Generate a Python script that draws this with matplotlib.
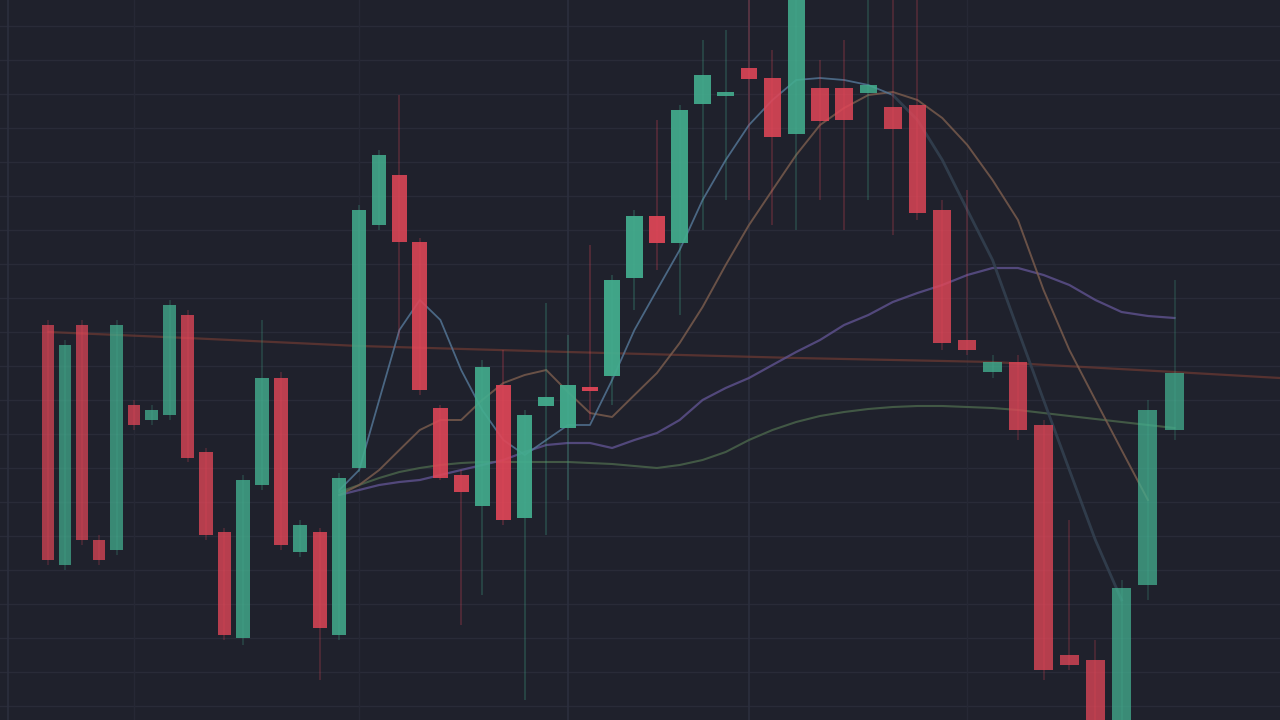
import numpy as np
import matplotlib
matplotlib.use("Agg")
import matplotlib.pyplot as plt

# ---- data (price values) ----
opens  = [395, 155, 395, 180, 170, 315, 300, 305, 405, 268, 188, 82, 235, 342, 168, 188, 85, 252, 495, 545,
          478, 312, 245, 214, 335, 202, 314, 292, 332, 344, 442, 504, 477, 616, 624, 652, 642, 586, 632, 632,
          627, 613, 615, 510, 380, 348, 358, 295, 65, 60, -40, 135, 290]
closes = [160, 375, 180, 160, 395, 295, 310, 415, 262, 185, 85, 240, 342, 175, 195, 92, 242, 510, 565, 478,
          330, 242, 228, 353, 200, 305, 323, 335, 330, 440, 504, 477, 610, 645, 628, 641, 583, 740, 599, 600,
          635, 591, 507, 377, 370, 358, 290, 50, 55, -40, 132, 310, 347]
highs  = [400, 380, 400, 185, 400, 320, 315, 420, 410, 272, 192, 245, 400, 348, 200, 192, 247, 515, 570, 625,
          482, 315, 250, 360, 370, 310, 417, 385, 475, 445, 510, 600, 615, 680, 690, 720, 670, 740, 660, 680,
          720, 720, 720, 520, 530, 365, 365, 300, 200, 80, 140, 320, 440]
lows   = [155, 150, 175, 155, 165, 290, 295, 300, 258, 180, 80, 75, 230, 170, 163, 40, 80, 248, 490, 380,
          325, 240, 95, 125, 195, 20, 185, 220, 300, 315, 410, 450, 405, 490, 520, 520, 495, 490, 520, 490,
          520, 485, 500, 370, 365, 342, 280, 40, 50, -20, -20, 120, 280]

ma_blue   = [np.nan]*16 + [230, 250, 320, 390, 420, 400, 350, 310, 280, 265, 280, 295, 295, 340, 390, 430, 470,
             520, 560, 595, 620, 640, 642, 640, 635, 625, 600, 560, 510, 460, 390, 320, 250, 180, 120] + [np.nan, np.nan]
ma_orange = [np.nan]*16 + [225, 235, 250, 270, 290, 300, 300, 320, 337, 345, 350, 328, 307, 303, 325, 347, 377,
             413, 455, 495, 530, 565, 595, 612, 625, 628, 620, 602, 575, 540, 500, 430, 370, 320, 270, 220] + [np.nan]
ma_purple = [np.nan]*16 + [225, 230, 235, 238, 240, 245, 250, 255, 260, 268, 275, 277, 277, 272, 280, 287, 300,
             320, 332, 342, 355, 368, 380, 395, 405, 418, 427, 435, 445, 452, 452, 445, 435, 420, 408, 404, 402]
ma_green  = [np.nan]*16 + [228, 235, 242, 248, 252, 255, 257, 258, 258, 258, 258, 258, 257, 256, 254, 252, 255,
             260, 268, 280, 290, 298, 304, 308, 311, 313, 314, 314, 313, 312, 310, 307, 304, 301, 298, 295, 292]
ref_idx = [0, 8, 17, 27, 37, 45, 52, 55.9]
ref_val = [388, 382, 374, 368, 362, 358, 348, 342]

# ---- style ----
BG = "#1f212c"
UP = "#43ad8e"
DN = "#df4657"

# perspective-like time axis
A, B = 16.65, 0.0965
def fwd(i):
    i = np.asarray(i, dtype=float)
    return A * i + B * i * i
def inv(p):
    p = np.asarray(p, dtype=float)
    return (-A + np.sqrt(np.maximum(A * A + 4 * B * p, 0))) / (2 * B)

fig = plt.figure(figsize=(12.8, 7.2), dpi=100, facecolor=BG)
ax = fig.add_axes([0, 0, 1, 1])
ax.set_facecolor(BG)
ax.set_xscale("function", functions=(fwd, inv))
ax.set_xlim(-2.96, 55.9)
ax.set_ylim(0, 720)

# grid
for yv in np.arange(-20, 760, 34):
    ax.axhline(yv, color="#292b38", lw=1.0, zorder=0)
for xv in [-2.45, 27, 35]:
    ax.axvline(xv, color="#2c2f3e", lw=1.2, zorder=0)
for xv in [5, 17, 44]:
    ax.axvline(xv, color="#262835", lw=1.0, zorder=0)

idx = np.arange(len(opens))
for i in idx:
    o, c, h, l = opens[i], closes[i], highs[i], lows[i]
    up = c >= o
    col = UP if up else DN
    dist = abs(i - 28) / 28.0
    a = 1.0 - 0.25 * dist
    ax.vlines(i, l, h, color=col, lw=1.2, alpha=0.3 * a, zorder=2)
    body = max(abs(c - o), 4)
    ax.bar(i, body, bottom=min(o, c) if abs(c - o) >= 4 else (o + c) / 2 - 2,
           width=0.72, color=col, alpha=0.95 * a, zorder=3, linewidth=0)

ax.plot(ref_idx, ref_val, color="#6e3a33", lw=1.6, alpha=0.7, zorder=1)
ax.plot(idx, ma_green, color="#465f48", lw=1.5, alpha=0.9, zorder=1)
ax.plot(idx, ma_purple, color="#5f5290", lw=1.6, alpha=0.8, zorder=1)
ax.plot(idx, ma_orange, color="#7d5e4e", lw=1.4, alpha=0.8, zorder=1)
ax.plot(idx[:42], ma_blue[:42], color="#56799a", lw=1.3, alpha=0.8, zorder=1)
ax.plot(idx[41:], ma_blue[41:], color="#33404f", lw=2.0, alpha=0.9, zorder=1)

ax.set_xticks([])
ax.set_yticks([])
for s in ax.spines.values():
    s.set_visible(False)

fig.savefig("out.png", dpi=100, facecolor=BG)
